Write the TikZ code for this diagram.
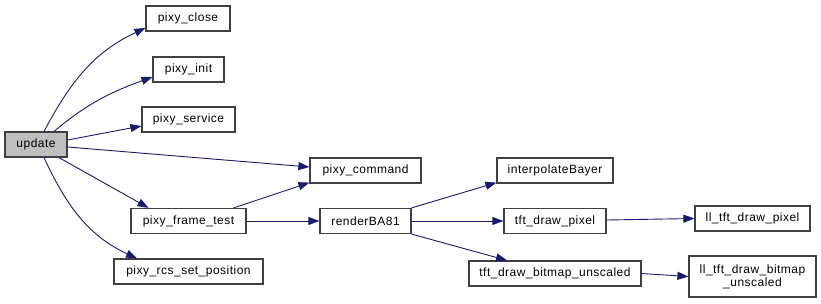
\documentclass[tikz,border=0pt]{standalone}
\usepackage{fontspec}
\setmainfont{Liberation Sans}[LetterSpace=4]
\usetikzlibrary{arrows.meta}
\definecolor{edgeblue}{HTML}{191970}
\definecolor{boxline}{HTML}{404040}
\definecolor{curfill}{HTML}{BFBFBF}
\tikzset{
  fn/.style={draw=boxline, line width=1.2pt, fill=white, inner sep=0pt,
    minimum height=25pt, font=\fontsize{12}{13}\selectfont, align=center},
  cur/.style={fn, fill=curfill},
  call/.style={draw=edgeblue, line width=0.9pt,
    -{Triangle[length=11pt,width=8pt]}},
}
\begin{document}
\begin{tikzpicture}[x=1pt,y=1pt]
\useasboundingbox (0,0) rectangle (821,-303);
% functions
\node[cur, minimum width=62pt] (update) at (36,-144.5) {update};
\node[fn, minimum width=84pt] (close) at (188,-18.5) {pixy\_close};
\node[fn, minimum width=71pt] (init) at (188.5,-69.5) {pixy\_init};
\node[fn, minimum width=93pt] (service) at (188.5,-119.5) {pixy\_service};
\node[fn, minimum width=111pt] (command) at (365.5,-170.5) {pixy\_command};
\node[fn, minimum width=115pt] (frame) at (188.5,-221) {pixy\_frame\_test};
\node[fn, minimum width=149pt] (rcs) at (188.5,-271.5) {pixy\_rcs\_set\_position};
\node[fn, minimum width=91pt] (render) at (365.5,-221) {renderBA81};
\node[fn, minimum width=116pt] (bayer) at (555,-170.5) {interpolateBayer};
\node[fn, minimum width=102pt] (pixel) at (555,-221) {tft\_draw\_pixel};
\node[fn, minimum width=172pt] (bitmap) at (555,-273.5) {tft\_draw\_bitmap\_unscaled};
\node[fn, minimum width=115pt] (llpixel) at (752.5,-218.5) {ll\_tft\_draw\_pixel};
\node[fn, minimum width=127pt, minimum height=41pt] (llbitmap) at (752.5,-276.5)
  {ll\_tft\_draw\_bitmap\\\_unscaled};
% calls
\draw[call] ([xshift=8pt]update.north) to[out=62,in=205] ([yshift=-9.5pt]close.west);
\draw[call] ([xshift=18pt]update.north) to[out=40,in=200] ([yshift=-7.5pt]init.west);
\draw[call] ([yshift=4.5pt]update.east) -- ([yshift=-6.5pt]service.west);
\draw[call] ([yshift=-2.5pt]update.east) -- ([yshift=3.5pt]command.west);
\draw[call] ([xshift=23pt]update.south) -- ([xshift=-40pt]frame.north);
\draw[call] ([xshift=8pt]update.south) to[out=-65,in=155] ([xshift=-51.5pt]rcs.north);
\draw[call] ([xshift=45pt]frame.north) -- ([yshift=1pt]command.south west);
\draw[call] (frame.east) -- (render.west);
\draw[call] (render.north east) -- ([yshift=1pt]bayer.south west);
\draw[call] (render.east) -- (pixel.west);
\draw[call] (render.south east) -- ([xshift=-48pt]bitmap.north);
\draw[call] ([yshift=1pt]pixel.east) -- (llpixel.west);
\draw[call] (bitmap.east) -- (llbitmap.west);
\end{tikzpicture}
\end{document}
